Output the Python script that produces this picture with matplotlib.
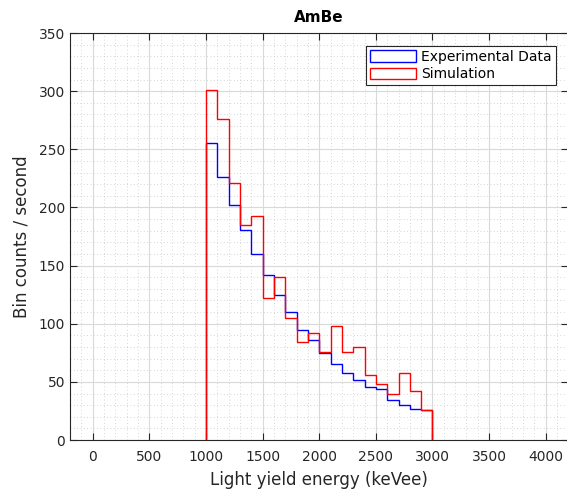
import numpy as np
import matplotlib
matplotlib.use('Agg')
import matplotlib.pyplot as plt
from matplotlib.patches import Patch
from matplotlib.ticker import MultipleLocator

# bin edges (keVee) and rates
edges = np.arange(1000, 3001, 100)
experimental = [255, 226, 202, 181, 160, 142, 125, 110, 95, 86,
                75, 65, 58, 52, 46, 44, 34, 30, 27, 26]
simulation = [301, 276, 221, 185, 193, 122, 140, 105, 84, 92,
              76, 98, 76, 80, 56, 48, 40, 58, 42, 26]

dark = (0.15, 0.15, 0.15)

fig = plt.figure(figsize=(5.67, 4.9), dpi=100)
ax = fig.add_axes([0.1235, 0.102, 0.879, 0.8306])

ax.stairs(experimental, edges, color='b', linewidth=1.0, baseline=0)
ax.stairs(simulation, edges, color='r', linewidth=1.0, baseline=0)

ax.set_xlim(-200, 4200)
ax.set_ylim(0, 350)
ax.xaxis.set_major_locator(MultipleLocator(500))
ax.xaxis.set_minor_locator(MultipleLocator(100))
ax.yaxis.set_major_locator(MultipleLocator(50))
ax.yaxis.set_minor_locator(MultipleLocator(10))

ax.grid(which='major', color=(0.85, 0.85, 0.85), linewidth=0.8)
ax.grid(which='minor', color=(0.78, 0.78, 0.78), linestyle=(0, (1, 3)), linewidth=0.6)
ax.set_axisbelow(True)

ax.tick_params(which='both', direction='in', top=True, right=True, colors=dark,
               labelsize=10)
ax.tick_params(which='major', length=5)
ax.tick_params(which='minor', length=0)
ax.tick_params(axis='x', pad=7)
for s in ax.spines.values():
    s.set_color(dark)
    s.set_linewidth(0.8)

ax.set_title('AmBe', fontsize=11, fontweight='bold', color='black', pad=8)
ax.set_xlabel('Light yield energy (keVee)', fontsize=12, color=dark, labelpad=5)
ax.set_ylabel('Bin counts / second', fontsize=12, color=dark, labelpad=6)

handles = [Patch(facecolor='none', edgecolor='b', label='Experimental Data'),
           Patch(facecolor='none', edgecolor='r', label='Simulation')]
leg = ax.legend(handles=handles, loc='upper right', fontsize=10, fancybox=False,
                framealpha=1, edgecolor=dark, borderaxespad=0.9,
                handlelength=3.3, handleheight=0.9, handletextpad=0.4,
                borderpad=0.3, labelspacing=0.25)
leg.get_frame().set_linewidth(0.8)

fig.savefig('out.png', dpi=100)
